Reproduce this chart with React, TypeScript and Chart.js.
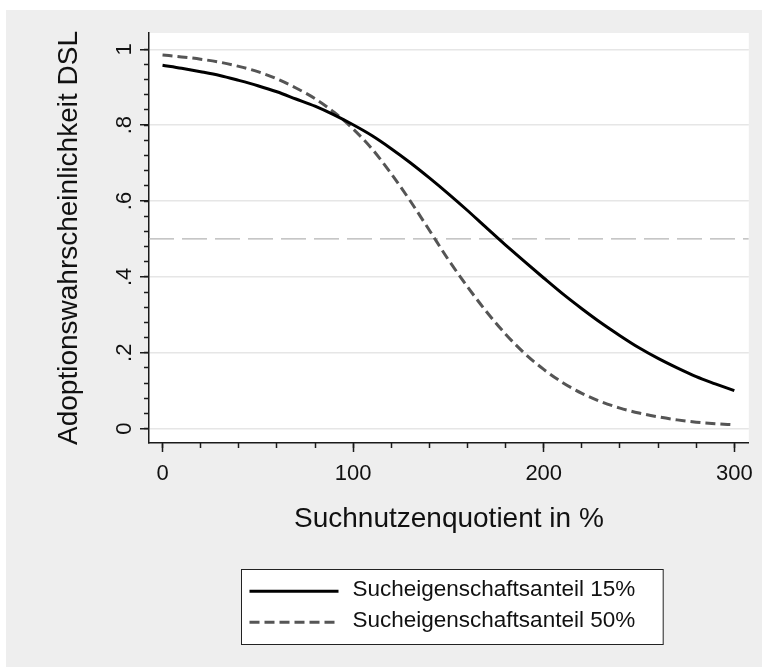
import React, { useEffect, useRef } from "react";
import { Chart, registerables } from "chart.js";

Chart.register(...registerables);

// ---- data ----
const xValues = [0, 10, 20, 30, 40, 50, 60, 70, 80, 90, 100, 110, 120, 130, 140, 150, 160, 170, 180, 190, 200, 210, 220, 230, 240, 250, 260, 270, 280, 290, 300];
const share15 = [0.958, 0.950, 0.941, 0.931, 0.918, 0.904, 0.888, 0.869, 0.850, 0.827, 0.801, 0.772, 0.738, 0.701, 0.661, 0.619, 0.575, 0.529, 0.484, 0.440, 0.397, 0.355, 0.316, 0.279, 0.245, 0.213, 0.185, 0.160, 0.137, 0.118, 0.100];
const share50 = [0.985, 0.980, 0.974, 0.966, 0.955, 0.941, 0.922, 0.898, 0.870, 0.834, 0.790, 0.737, 0.672, 0.600, 0.523, 0.445, 0.374, 0.308, 0.249, 0.198, 0.156, 0.121, 0.093, 0.071, 0.054, 0.041, 0.031, 0.023, 0.017, 0.013, 0.010];
const seriesLabels = ["Sucheigenschaftsanteil 15%", "Sucheigenschaftsanteil 50%"];

const xMajorTicks = [0, 100, 200, 300];
const xTickLabels = ["0", "100", "200", "300"];
const xMinorTicks = [0, 20, 40, 60, 80, 100, 120, 140, 160, 180, 200, 220, 240, 260, 280, 300];
const yMajorTicks = [0, 0.2, 0.4, 0.6, 0.8, 1];
const yTickLabels = ["0", ".2", ".4", ".6", ".8", "1"];
const yMinorTicks = [0, 0.04, 0.08, 0.12, 0.16, 0.2, 0.24, 0.28, 0.32, 0.36, 0.4, 0.44, 0.48, 0.52, 0.56, 0.6, 0.64, 0.68, 0.72, 0.76, 0.8, 0.84, 0.88, 0.92, 0.96, 1];
const referenceY = 0.5;
const xRange = [-7.1, 307.6];
const yRange = [-0.038, 1.043];
const xTitle = "Suchnutzenquotient in %";
const yTitle = "Adoptionswahrscheinlichkeit DSL";

const FONT = "'Liberation Sans', Arial, Helvetica, sans-serif";
const AXIS_COLOR = "#1a1a1a";
const TEXT_COLOR = "#111111";

const plotBgPlugin = {
  id: "plotBg",
  beforeDraw(chart: any) {
    const { ctx, chartArea } = chart;
    ctx.save();
    ctx.fillStyle = "#ffffff";
    ctx.fillRect(chartArea.left, chartArea.top, chartArea.right - chartArea.left, chartArea.bottom - chartArea.top);
    ctx.restore();
  },
};

const boxLegendPlugin = {
  id: "boxLegend",
  afterDraw(chart: any) {
    const ctx = chart.ctx;
    const items = chart.data.datasets.filter((d: any) => d.inLegend);
    ctx.save();
    ctx.font = `22.5px ${FONT}`;
    const tw = Math.max(...items.map((d: any) => ctx.measureText(d.label).width));
    const padL = 8, sampleLen = 89, gap = 14, padR = 28, rowH = 31, h = 75;
    const w = padL + sampleLen + gap + tw + padR;
    const ca = chart.chartArea;
    const cx = (ca.left + ca.right) / 2 + 2.5;
    const left = Math.round(cx - w / 2) + 0.5;
    const top = Math.round(chart.scales.x.bottom + 31) + 0.5;
    ctx.fillStyle = "#ffffff";
    ctx.fillRect(left, top, w, h);
    ctx.strokeStyle = "#222222";
    ctx.lineWidth = 1;
    ctx.strokeRect(left, top, w, h);
    items.forEach((d: any, i: number) => {
      const y = top + 21.7 + i * rowH;
      ctx.beginPath();
      ctx.setLineDash(d.borderDash || []);
      ctx.strokeStyle = d.borderColor;
      ctx.lineWidth = d.borderWidth;
      ctx.moveTo(left + padL, y);
      ctx.lineTo(left + padL + sampleLen, y);
      ctx.stroke();
      ctx.setLineDash([]);
      ctx.fillStyle = TEXT_COLOR;
      ctx.textBaseline = "middle";
      ctx.textAlign = "left";
      ctx.fillText(d.label, left + padL + sampleLen + gap, y - 1);
    });
    ctx.restore();
  },
};

export default function App() {
  const ref = useRef<HTMLCanvasElement | null>(null);

  useEffect(() => {
    if (!ref.current) return;
    const chart = new Chart(ref.current, {
      type: "line",
      data: {
        datasets: [
          {
            label: seriesLabels[0],
            data: xValues.map((x, i) => ({ x, y: share15[i] })),
            borderColor: "#000000",
            borderWidth: 3,
            pointRadius: 0,
            fill: false,
            cubicInterpolationMode: "monotone",
            xAxisID: "x",
            yAxisID: "y",
            inLegend: true,
          } as any,
          {
            label: seriesLabels[1],
            data: xValues.map((x, i) => ({ x, y: share50[i] })),
            borderColor: "#555555",
            borderWidth: 3,
            borderDash: [10, 5],
            pointRadius: 0,
            fill: false,
            cubicInterpolationMode: "monotone",
            xAxisID: "x",
            yAxisID: "y",
            inLegend: true,
          } as any,
          {
            label: "ref",
            data: [
              { x: xRange[0], y: referenceY },
              { x: xRange[1], y: referenceY },
            ],
            borderColor: "#b4b4b4",
            borderWidth: 1.2,
            borderDash: [25, 8],
            pointRadius: 0,
            fill: false,
            xAxisID: "x",
            yAxisID: "y",
            inLegend: false,
          } as any,
        ],
      },
      options: {
        animation: false,
        responsive: false,
        maintainAspectRatio: false,
        events: [],
        layout: { padding: { left: 0, right: 11, top: 23, bottom: 129 } },
        plugins: {
          legend: { display: false },
          tooltip: { enabled: false },
          title: { display: false },
        },
        scales: {
          x: {
            type: "linear",
            axis: "x",
            position: "bottom",
            weight: 1,
            min: xRange[0],
            max: xRange[1],
            bounds: "data",
            afterBuildTicks: (s: any) => {
              s.ticks = xMajorTicks.map((v) => ({ value: v }));
            },
            afterFit: (s: any) => {
              s.height = 95;
            },
            ticks: {
              callback: (_v: any, i: number) => xTickLabels[i],
              font: { size: 22, family: FONT },
              color: TEXT_COLOR,
              padding: 9,
              maxRotation: 0,
              minRotation: 0,
              autoSkip: false,
            },
            grid: {
              drawOnChartArea: false,
              drawTicks: true,
              tickLength: 9,
              tickColor: AXIS_COLOR,
              tickWidth: 1.5,
            },
            border: { display: true, color: AXIS_COLOR, width: 1.5 },
            title: {
              display: true,
              text: xTitle,
              font: { size: 28, family: FONT },
              color: TEXT_COLOR,
              padding: { top: 0, bottom: 2.4 },
            },
          },
          xMinor: {
            type: "linear",
            axis: "x",
            position: "bottom",
            weight: 0,
            min: xRange[0],
            max: xRange[1],
            bounds: "data",
            afterBuildTicks: (s: any) => {
              s.ticks = xMinorTicks.map((v) => ({ value: v }));
            },
            afterFit: (s: any) => {
              s.height = 0;
            },
            ticks: { display: false, autoSkip: false },
            grid: {
              drawOnChartArea: false,
              drawTicks: true,
              tickLength: 5,
              tickColor: AXIS_COLOR,
              tickWidth: 1.5,
            },
            border: { display: false },
          },
          y: {
            type: "linear",
            axis: "y",
            position: "left",
            weight: 1,
            min: yRange[0],
            max: yRange[1],
            bounds: "data",
            afterBuildTicks: (s: any) => {
              s.ticks = yMajorTicks.map((v) => ({ value: v }));
            },
            afterFit: (s: any) => {
              s.width = 143;
            },
            ticks: {
              callback: (_v: any, i: number) => yTickLabels[i],
              font: { size: 22, family: FONT },
              color: TEXT_COLOR,
              padding: 5.6,
              minRotation: 90,
              maxRotation: 90,
              crossAlign: "center",
              autoSkip: false,
            },
            grid: {
              drawOnChartArea: true,
              color: "#e6e6e6",
              lineWidth: 1.5,
              drawTicks: true,
              tickLength: 9,
              tickColor: AXIS_COLOR,
              tickWidth: 1.5,
            },
            border: { display: true, color: AXIS_COLOR, width: 1.5 },
            title: {
              display: true,
              text: yTitle,
              font: { size: 28, family: FONT },
              color: TEXT_COLOR,
              padding: { top: 46.4, bottom: 0 },
            },
          },
          yMinor: {
            type: "linear",
            axis: "y",
            position: "left",
            weight: 0,
            min: yRange[0],
            max: yRange[1],
            bounds: "data",
            afterBuildTicks: (s: any) => {
              s.ticks = yMinorTicks.map((v) => ({ value: v }));
            },
            afterFit: (s: any) => {
              s.width = 0;
            },
            ticks: { display: false, autoSkip: false },
            grid: {
              drawOnChartArea: false,
              drawTicks: true,
              tickLength: 5,
              tickColor: AXIS_COLOR,
              tickWidth: 1.5,
            },
            border: { display: false },
          },
        },
      } as any,
      plugins: [plotBgPlugin, boxLegendPlugin],
    });
    return () => chart.destroy();
  }, []);

  return (
    <div style={{ position: "absolute", left: 0, top: 0, width: 763, height: 668, background: "#ffffff" }}>
      <canvas
        ref={ref}
        width={756}
        height={657}
        style={{ position: "absolute", left: 6, top: 10, width: 756, height: 657, background: "#eeeeee" }}
      />
    </div>
  );
}
